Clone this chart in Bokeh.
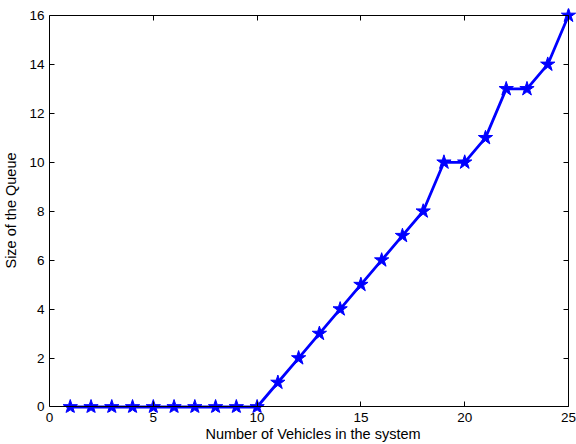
from bokeh.plotting import figure
from bokeh.models import LinearAxis, FixedTicker, Range1d
from bokeh.embed import file_html
from bokeh.resources import INLINE

vehicles = list(range(1, 26))
queue = [0, 0, 0, 0, 0, 0, 0, 0, 0, 0, 1, 2, 3, 4, 5, 6, 7, 8, 10, 10, 11, 13, 13, 14, 16]
x_ticks = [0, 5, 10, 15, 20, 25]
y_ticks = [0, 2, 4, 6, 8, 10, 12, 14, 16]
x_lim = (0, 25)
y_lim = (0, 16)

FONT = "Liberation Sans"
# extra room so the markers at the box edges are not clipped
X_PAD_RIGHT = 0.385
Y_PAD_TOP = 0.286
Y_PAD_BOTTOM = 0.225

p = figure(width=576, height=444, output_backend="svg", toolbar_location=None,
           x_range=Range1d(x_lim[0], x_lim[1] + X_PAD_RIGHT),
           y_range=Range1d(y_lim[0] - Y_PAD_BOTTOM, y_lim[1] + Y_PAD_TOP),
           x_axis_location=None, y_axis_location=None,
           min_border_left=48, min_border_right=0, min_border_top=8, min_border_bottom=32)
p.background_fill_color = "white"
p.border_fill_color = "white"
p.outline_line_color = None
p.xgrid.visible = False
p.ygrid.visible = False


def base_axis(ticks, bounds=None, loc=None):
    ax = LinearAxis(ticker=FixedTicker(ticks=ticks))
    if bounds is not None:
        ax.bounds = bounds
    if loc is not None:
        ax.fixed_location = loc
    ax.minor_tick_line_color = None
    ax.major_tick_in = 5
    ax.major_tick_out = 0
    ax.axis_line_color = "black"
    ax.axis_line_width = 1
    ax.major_tick_line_color = "black"
    ax.major_label_text_font = FONT
    ax.major_label_text_font_size = "13.5px"
    ax.major_label_text_color = "black"
    ax.axis_label_text_font = FONT
    ax.axis_label_text_font_style = "normal"
    ax.axis_label_text_color = "black"
    ax.axis_label_text_font_size = "14.5px"
    return ax


def frame_axis(ticks, bounds, loc):
    ax = base_axis(ticks, bounds, loc)
    ax.major_label_text_font_size = "0px"
    ax.major_label_text_color = None
    ax.major_label_standoff = 0
    return ax


# box lines + inward ticks at the data limits
p.add_layout(frame_axis(x_ticks, x_lim, y_lim[0]), "below")
p.add_layout(frame_axis(x_ticks, x_lim, y_lim[1]), "above")
p.add_layout(frame_axis(y_ticks, y_lim, x_lim[1]), "right")

# bottom labels
bottom = base_axis(x_ticks)
bottom.axis_line_color = None
bottom.major_tick_line_color = None
bottom.major_label_standoff = 0
bottom.axis_label = "Number of Vehicles in the system"
bottom.axis_label_standoff = 1
p.add_layout(bottom, "below")

# left axis (frame edge coincides with x = 0)
left = base_axis(y_ticks, bounds=y_lim)
left.major_label_standoff = 5
left.axis_label = "Size of the Queue"
left.axis_label_standoff = 7
p.add_layout(left, "left")

p.line(vehicles, queue, line_color="#0000ff", line_width=2.8)
p.scatter(vehicles, queue, marker="star", size=15, fill_color="#0000ff", line_color="#0000ff")

open("out.html", "w").write(file_html(p, INLINE))
